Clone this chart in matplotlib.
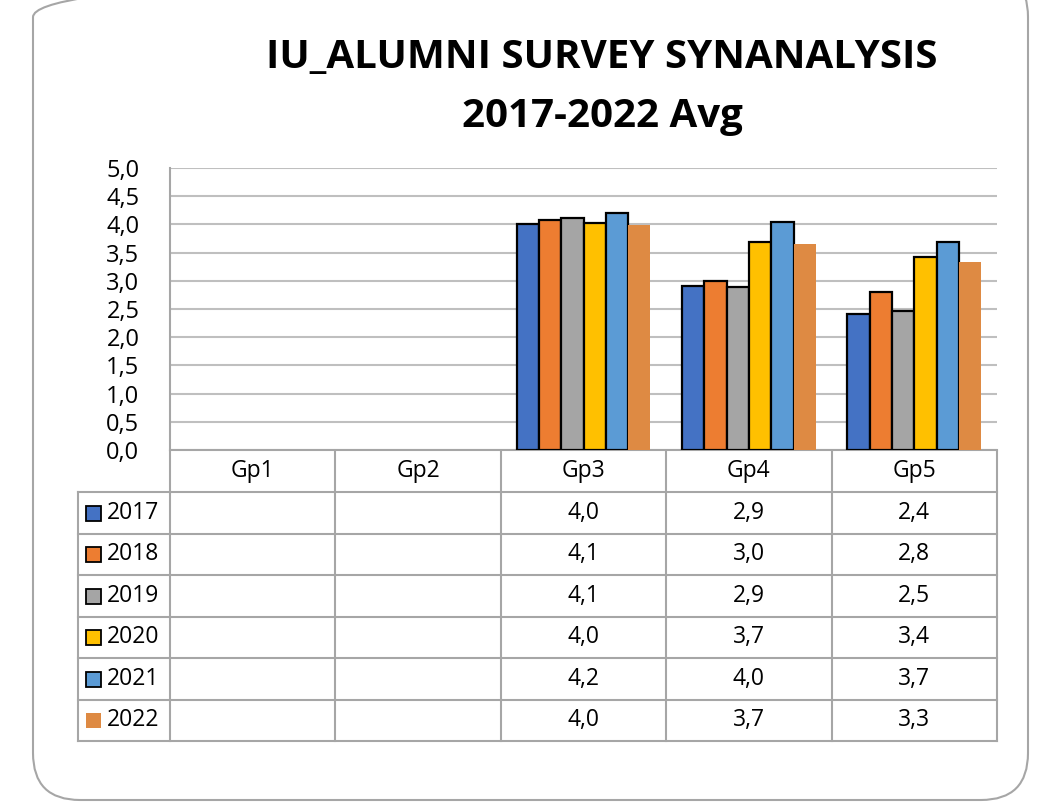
import numpy as np
import matplotlib
matplotlib.use('Agg')
import matplotlib.pyplot as plt
from matplotlib.patches import FancyBboxPatch, Rectangle

# chart data
groups = ['Gp1', 'Gp2', 'Gp3', 'Gp4', 'Gp5']
years = ['2017', '2018', '2019', '2020', '2021', '2022']
avg_2017 = [np.nan, np.nan, 4.01, 2.91, 2.41]
avg_2018 = [np.nan, np.nan, 4.08, 3.00, 2.81]
avg_2019 = [np.nan, np.nan, 4.12, 2.89, 2.46]
avg_2020 = [np.nan, np.nan, 4.02, 3.69, 3.43]
avg_2021 = [np.nan, np.nan, 4.21, 4.04, 3.68]
avg_2022 = [np.nan, np.nan, 3.99, 3.66, 3.34]
series = [avg_2017, avg_2018, avg_2019, avg_2020, avg_2021, avg_2022]
colors = ['#4472C4', '#ED7D31', '#A5A5A5', '#FFC000', '#5B9BD5', '#DE8A43']
edged = [True, True, True, True, True, False]
y_ticks = [0.0, 0.5, 1.0, 1.5, 2.0, 2.5, 3.0, 3.5, 4.0, 4.5, 5.0]

W, H = 1046, 807
FONT = ['Open Sans', 'DejaVu Sans']
GRID = '#BFBFBF'
LINE = '#A6A6A6'
FS = 16.5


def box(x0, y0, x1, y1):
    # pixel box (top-left origin) -> figure fraction rect
    return [x0 / W, 1 - y1 / H, (x1 - x0) / W, (y1 - y0) / H]


fig = plt.figure(figsize=(W / 100, H / 100), dpi=100)

# rounded outer frame
frame = FancyBboxPatch((33 / W, 7 / H), 995 / W, 830 / H,
                       boxstyle='round,pad=0,rounding_size=0.045',
                       transform=fig.transFigure, fill=False,
                       edgecolor=LINE, linewidth=1.5, mutation_aspect=W / H)
fig.patches.append(frame)

fig.text(602 / W, 1 - 58 / H, 'IU_ALUMNI SURVEY SYNANALYSIS', ha='center',
         va='center', fontsize=29, fontweight='bold', family=FONT)
fig.text(602 / W, 1 - 117 / H, '2017-2022 Avg', ha='center', va='center',
         fontsize=29, fontweight='bold', family=FONT)

# plot area
ax = fig.add_axes(box(170, 168, 997, 450))
n = len(series)
bw = 0.135
x = np.arange(len(groups))
for i, (vals, c, e) in enumerate(zip(series, colors, edged)):
    ax.bar(x + (i - (n - 1) / 2) * bw, vals, width=bw, color=c,
           edgecolor='black' if e else c, linewidth=1.6 if e else 0,
           zorder=3)
ax.set_xlim(-0.5, len(groups) - 0.5)
ax.set_ylim(0, 5)
ax.set_yticks(y_ticks)
ax.set_yticklabels(['{:.1f}'.format(v).replace('.', ',') for v in y_ticks],
                   family=FONT, fontsize=17)
ax.tick_params(axis='y', length=0, pad=22)
ax.set_xticks([])
ax.grid(axis='y', color=GRID, linewidth=1.5, zorder=0)
for s in ['top', 'right']:
    ax.spines[s].set_visible(False)
ax.spines['left'].set_color(LINE)
ax.spines['left'].set_linewidth(1.5)
ax.spines['bottom'].set_color(LINE)
ax.spines['bottom'].set_linewidth(1.5)

# data table below the plot
tx = fig.add_axes(box(60, 450, 1000, 745))
tx.set_xlim(60, 1000)
tx.set_ylim(745, 450)
tx.axis('off')
col_edges = [170 + k * (997 - 170) / len(groups) for k in range(len(groups) + 1)]
header_bottom = 492
row_h = (741 - header_bottom) / len(years)
row_edges = [header_bottom + k * row_h for k in range(len(years) + 1)]
lw = 1.5
for xe in col_edges:
    tx.plot([xe, xe], [450, row_edges[-1]], color=LINE, lw=lw)
tx.plot([78, 78], [header_bottom, row_edges[-1]], color=LINE, lw=lw)
for ye in row_edges:
    tx.plot([78, 997], [ye, ye], color=LINE, lw=lw)
for k, g in enumerate(groups):
    tx.text((col_edges[k] + col_edges[k + 1]) / 2, (450 + header_bottom) / 2,
            g, ha='center', va='center', fontsize=FS, family=FONT)
for r, (yr, vals, c, e) in enumerate(zip(years, series, colors, edged)):
    yc = (row_edges[r] + row_edges[r + 1]) / 2
    tx.add_patch(Rectangle((86, yc - 7), 15, 15, facecolor=c,
                           edgecolor='black' if e else c, lw=1.3 if e else 0))
    tx.text(107, yc, yr, ha='left', va='center', fontsize=FS, family=FONT)
    for k, v in enumerate(vals):
        if np.isnan(v):
            continue
        tx.text((col_edges[k] + col_edges[k + 1]) / 2, yc,
                '{:.1f}'.format(v).replace('.', ','), ha='center',
                va='center', fontsize=FS, family=FONT)

fig.savefig('out.png', dpi=100)
